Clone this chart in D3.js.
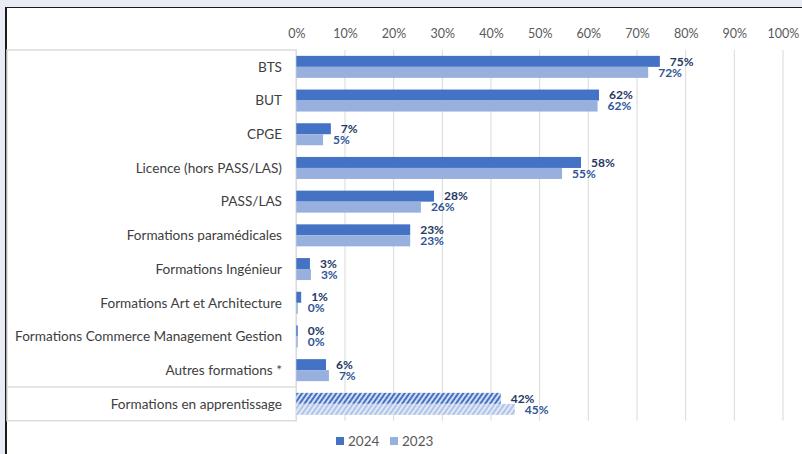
<!DOCTYPE html>
<html>
<head>
<meta charset="utf-8">
<script src="https://d3js.org/d3.v7.min.js"></script>
<style>
  body { margin: 0; background: #e9ecf5; }
  svg { display: block; font-family: Lato, "Open Sans", sans-serif; }
</style>
</head>
<body>
<svg id="chart" width="802" height="454"></svg>
<script>
// data
const categories = ["BTS", "BUT", "CPGE", "Licence (hors PASS/LAS)", "PASS/LAS",
  "Formations paramédicales", "Formations Ingénieur", "Formations Art et Architecture",
  "Formations Commerce Management Gestion", "Autres formations *", "Formations en apprentissage"];
const values2024 = [74.7, 62.2, 7.1, 58.5, 28.3, 23.4, 2.8, 1.0, 0.3, 6.1, 42.0];
const values2023 = [72.3, 61.9, 5.5, 54.6, 25.6, 23.4, 3.0, 0.3, 0.3, 6.7, 44.9];
const labels2024 = ["75%", "62%", "7%", "58%", "28%", "23%", "3%", "1%", "0%", "6%", "42%"];
const labels2023 = ["72%", "62%", "5%", "55%", "26%", "23%", "3%", "0%", "0%", "7%", "45%"];
const ticks = [0, 10, 20, 30, 40, 50, 60, 70, 80, 90, 100];
const seriesNames = ["2024", "2023"];

const svg = d3.select("#chart");
const c2024 = "#4472c4", c2023 = "#98b0de";

// white panel with dark frame (cropped on right/bottom)
svg.append("rect").attr("x", 6).attr("y", 7.5).attr("width", 800).attr("height", 460)
  .attr("fill", "#fff");
svg.append("line").attr("x1", 5).attr("x2", 802).attr("y1", 7.5).attr("y2", 7.5)
  .attr("stroke", "#1a1a1a").attr("stroke-width", 1);
svg.append("line").attr("x1", 6).attr("x2", 6).attr("y1", 7).attr("y2", 454)
  .attr("stroke", "#1a1a1a").attr("stroke-width", 2);

// patterns for apprenticeship bars
const defs = svg.append("defs");
function hatch(id, bg, fg) {
  const p = defs.append("pattern").attr("id", id).attr("patternUnits", "userSpaceOnUse")
    .attr("width", 4).attr("height", 4).attr("patternTransform", "rotate(35)");
  p.append("rect").attr("width", 4).attr("height", 4).attr("fill", bg);
  p.append("rect").attr("width", 2).attr("height", 4).attr("fill", fg);
}
hatch("h2024", "#d3def3", c2024);
hatch("h2023", "#e2e9f6", "#b0c3e8");

const x = d3.scaleLinear().domain([0, 100]).range([296.3, 783]);
const y = d3.scaleBand().domain(categories).range([50, 420.7]);

// gridlines
svg.append("g").selectAll("line").data(ticks).join("line")
  .attr("x1", d => x(d)).attr("x2", d => x(d))
  .attr("y1", 50).attr("y2", 420.7)
  .attr("stroke", "#d9d9d9").attr("stroke-width", 1);

// top axis
const axis = svg.append("g").attr("transform", "translate(0,38)")
  .call(d3.axisTop(x).tickValues(ticks).tickFormat(d => d + "%").tickSize(0).tickPadding(0));
axis.select(".domain").remove();
axis.selectAll("text").attr("fill", "#595959").attr("font-size", 12.5)
  .attr("font-family", "Lato, sans-serif");

// label table
const tbl = svg.append("g");
tbl.append("rect").attr("x", 7).attr("y", y.range()[0]).attr("width", x(0) - 7)
  .attr("height", y.range()[1] - y.range()[0])
  .attr("fill", "none").attr("stroke", "#dcdcdc").attr("stroke-width", 1.5);
tbl.append("line").attr("x1", 7).attr("x2", x(0))
  .attr("y1", y(categories[10])).attr("y2", y(categories[10]))
  .attr("stroke", "#dcdcdc").attr("stroke-width", 1.5);
tbl.selectAll("text").data(categories).join("text")
  .attr("x", 282).attr("y", d => y(d) + y.bandwidth() / 2)
  .attr("dy", "0.35em").attr("text-anchor", "end")
  .attr("fill", "#404040").attr("font-size", 13.6).text(d => d);

// bars
const bh = 11;
const last = categories.length - 1;
const bars = svg.append("g");
bars.selectAll(".b24").data(values2024).join("rect")
  .attr("x", x(0)).attr("y", (d, i) => y(categories[i]) + y.bandwidth() / 2 - bh)
  .attr("width", d => x(d) - x(0)).attr("height", bh)
  .attr("fill", (d, i) => i === last ? "url(#h2024)" : c2024);
bars.selectAll(".b23").data(values2023).join("rect")
  .attr("x", x(0)).attr("y", (d, i) => y(categories[i]) + y.bandwidth() / 2)
  .attr("width", d => x(d) - x(0)).attr("height", bh)
  .attr("fill", (d, i) => i === last ? "url(#h2023)" : c2023);

// value labels
const lbl = svg.append("g").attr("font-size", 12).attr("font-weight", "bold");
lbl.selectAll(".l24").data(values2024).join("text")
  .attr("x", d => x(d) + 10).attr("y", (d, i) => y(categories[i]) + y.bandwidth() / 2 - bh / 2)
  .attr("dy", "0.35em").attr("fill", "#1f3864").text((d, i) => labels2024[i]);
lbl.selectAll(".l23").data(values2023).join("text")
  .attr("x", d => x(d) + 10).attr("y", (d, i) => y(categories[i]) + y.bandwidth() / 2 + bh / 2)
  .attr("dy", "0.35em").attr("fill", "#2f5597").text((d, i) => labels2023[i]);

// legend
const leg = svg.append("g").attr("transform", "translate(336,441)");
const legItems = leg.selectAll("g").data(seriesNames).join("g")
  .attr("transform", (d, i) => `translate(${i * 54},0)`);
legItems.append("rect").attr("x", 0).attr("y", -4).attr("width", 8).attr("height", 8)
  .attr("fill", (d, i) => i === 0 ? c2024 : c2023);
legItems.append("text").attr("x", 12).attr("dy", "0.35em")
  .attr("fill", "#595959").attr("font-size", 13.5).text(d => d);
</script>
</body>
</html>
